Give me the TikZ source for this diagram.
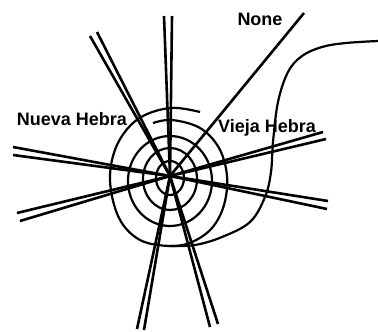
\documentclass[tikz,border=0pt]{standalone}
\usepackage{fontspec}
\setmainfont{Liberation Sans}
\begin{document}
\begin{tikzpicture}[x=1pt, y=-1pt,
  strand/.style={line width=2.6pt},
  ring/.style={line width=2.2pt},
  tag/.style={font=\bfseries\fontsize{18}{20}\selectfont, anchor=base, inner sep=0pt},
]
  \useasboundingbox (0,0) rectangle (378,332);

  % Fork point
  \coordinate (c) at (170,176);

  % Strand ends (pairs)
  \coordinate (up1) at (164,16);  \coordinate (up2) at (172,16);
  \coordinate (nw1) at (90,36);   \coordinate (nw2) at (97,32);
  \coordinate (w1) at (13,147);   \coordinate (w2) at (13,155);
  \coordinate (sw1) at (17,213);  \coordinate (sw2) at (20,221);
  \coordinate (ssw1) at (137,329); \coordinate (ssw2) at (144,330);
  \coordinate (sse1) at (210,327); \coordinate (sse2) at (218,324);
  \coordinate (e1) at (328,201);  \coordinate (e2) at (327,209);
  \coordinate (ne1) at (323,132); \coordinate (ne2) at (326,139);
  \coordinate (none) at (304,13);

  % Rings
  \draw[ring] (170,178) ellipse [x radius=14pt, y radius=17pt];
  \draw[ring] (170,179) ellipse [x radius=27pt, y radius=31pt];
  \draw[ring] (170,181) ellipse [x radius=42pt, y radius=45pt];

  % Open spiral
  \draw[ring] plot[smooth, tension=0.6] coordinates {(153,123) (172,120) (200,128) (219,148) (227,176) (224,205) (212,228) (192,242) (170,246) (140,240) (119,218) (110,180) (117,145) (138,119) (170,108) (200,112)};

  % Loop out to the right
  \draw[ring] plot[smooth, tension=0.6] coordinates {(170,246) (195,245) (222,237) (250,222) (265,197) (271,172) (273,142) (278,102) (288,72) (302,56) (322,47) (346,43) (378,41)};

  % Strands
  \foreach \s in {up,nw,w,sw,ssw,sse,e,ne} {
    \draw[strand] (c) -- (\s1);
    \draw[strand] (c) -- (\s2);
  }
  \draw[strand] (c) -- (none);

  % Labels
  \node[tag] (tnone) at (260,25) {None};
  \node[tag] (tnew) at (72,125) {Nueva Hebra};
  \node[tag] (told) at (267,132) {Vieja Hebra};
\end{tikzpicture}
\end{document}
